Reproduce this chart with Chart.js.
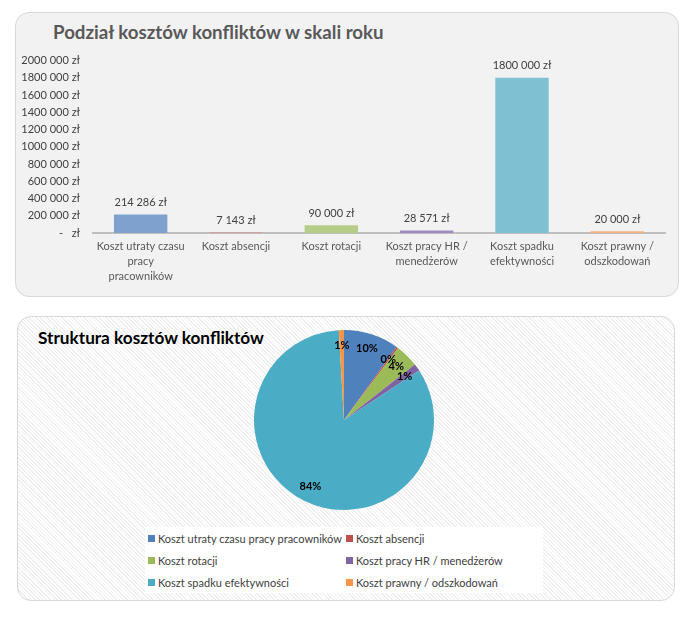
<!DOCTYPE html>
<html lang="pl">
<head>
<meta charset="utf-8">
<script src="https://cdn.jsdelivr.net/npm/chart.js@4"></script>
<style>
  body { margin: 0; width: 688px; height: 628px; background: #fff; font-family: Lato, sans-serif; position: relative; overflow: hidden; }
  .panel { position: absolute; border: 1px solid #d9d9d9; border-radius: 14px; box-sizing: border-box; }
  #top-panel { left: 15px; top: 12px; width: 664px; height: 285px; background: #f2f2f2; }
  #bottom-panel { left: 17px; top: 316px; width: 658px; height: 285px;
    background: repeating-linear-gradient(45deg, #ffffff 0px, #ffffff 1.5px, #efefef 1.5px, #efefef 2.6px); }
  .title { position: absolute; font-weight: bold; white-space: nowrap; }
  #bar-title { left: 53px; top: 21px; font-size: 18.7px; color: #595959; }
  #pie-title { left: 38px; top: 327px; font-size: 17.2px; color: #000; }
  #bar-box { position: absolute; left: 15px; top: 41px; width: 655px; height: 247px; }
  #pie-box { position: absolute; left: 244px; top: 320px; width: 200px; height: 200px; }
  #legend { position: absolute; left: 145px; top: 527px; width: 398px; height: 66px; background: #fff;
    display: grid; grid-template-columns: 198px 200px; grid-auto-rows: 22px; font-size: 11px; color: #404040; }
  #legend div { display: flex; align-items: center; white-space: nowrap; padding-left: 3px; }
  #legend span { display: inline-block; width: 7px; height: 7px; margin-right: 3px; }
</style>
</head>
<body>
<div class="panel" id="top-panel"></div>
<div class="panel" id="bottom-panel"></div>
<div class="title" id="bar-title">Podział kosztów konfliktów w skali roku</div>
<div class="title" id="pie-title">Struktura kosztów konfliktów</div>
<div id="bar-box"><canvas id="barChart"></canvas></div>
<div id="pie-box"><canvas id="pieChart"></canvas></div>
<div id="legend"></div>
<script>
// kategorie (linie etykiet osi X)
const categories = [
  ["Koszt utraty czasu", "pracy", "pracowników"],
  "Koszt absencji",
  "Koszt rotacji",
  ["Koszt pracy HR /", "menedżerów"],
  ["Koszt spadku", "efektywności"],
  ["Koszt prawny /", "odszkodowań"],
];
// koszty roczne w zł
const costs = [214286, 7143, 90000, 28571, 1800000, 20000];
// etykiety procentowe z wykresu kołowego
const pctLabels = ["10%", "0%", "4%", "1%", "84%", "1%"];
// oś Y
const yMax = 2000000;
const yStep = 200000;

const pieColors = ["#4f81bd", "#c0504d", "#9bbb59", "#8064a2", "#4bacc6", "#f79646"];
const barColors = ["#7ea2cd", "#d88a88", "#b6cc88", "#9e8bc0", "#7fc1d3", "#f9b07e"];

const FONT = "Lato, sans-serif";

function formatZl(v) {
  if (v === 0) return "-   zł";
  if (v < 1000) return v + " zł";
  const rest = String(v % 1000).padStart(3, "0");
  return Math.floor(v / 1000) + " " + rest + " zł";
}

// etykiety danych nad słupkami
const barLabels = {
  id: "barLabels",
  afterDatasetsDraw(chart) {
    const ctx = chart.ctx;
    const meta = chart.getDatasetMeta(0);
    ctx.save();
    ctx.font = "11px " + FONT;
    ctx.fillStyle = "#404040";
    ctx.textAlign = "center";
    ctx.textBaseline = "middle";
    meta.data.forEach((bar, i) => {
      ctx.fillText(formatZl(costs[i]), bar.x, bar.y - 12);
    });
    ctx.restore();
  },
};

new Chart(document.getElementById("barChart"), {
  type: "bar",
  data: {
    labels: categories,
    datasets: [{ data: costs, backgroundColor: barColors, categoryPercentage: 1, barPercentage: 0.56 }],
  },
  options: {
    responsive: true,
    maintainAspectRatio: false,
    animation: false,
    layout: { padding: { left: 5, right: 5, top: 5, bottom: 0 } },
    plugins: { legend: { display: false }, tooltip: { enabled: false } },
    scales: {
      y: {
        min: 0,
        max: yMax,
        afterFit: (s) => { s.width = 73; },
        grid: { display: false, drawTicks: false },
        border: { display: false },
        ticks: { stepSize: yStep, padding: 13, color: "#404040", font: { family: FONT, size: 11 }, callback: (v) => formatZl(v) },
      },
      x: {
        afterFit: (s) => { s.height = 55; },
        grid: { display: false, drawTicks: false },
        border: { color: "#bfbfbf", width: 2 },
        ticks: { padding: 6, color: "#595959", maxRotation: 0, autoSkip: false, font: { family: FONT, size: 11, lineHeight: 1.35 } },
      },
    },
  },
  plugins: [barLabels],
});

// etykiety procentowe na wycinkach
const pieLabels = {
  id: "pieLabels",
  afterDatasetsDraw(chart) {
    const ctx = chart.ctx;
    const meta = chart.getDatasetMeta(0);
    ctx.save();
    ctx.font = "bold 11px " + FONT;
    ctx.fillStyle = "#000";
    ctx.textAlign = "center";
    ctx.textBaseline = "middle";
    meta.data.forEach((arc, i) => {
      const a = (arc.startAngle + arc.endAngle) / 2;
      const r = arc.outerRadius * 0.83;
      ctx.fillText(pctLabels[i], arc.x + Math.cos(a) * r, arc.y + Math.sin(a) * r);
    });
    ctx.restore();
  },
};

new Chart(document.getElementById("pieChart"), {
  type: "pie",
  data: {
    labels: categories.map((c) => (Array.isArray(c) ? c.join(" ") : c)),
    datasets: [{ data: costs, backgroundColor: pieColors, borderWidth: 0 }],
  },
  options: {
    responsive: true,
    maintainAspectRatio: false,
    animation: false,
    layout: { padding: 10 },
    plugins: { legend: { display: false }, tooltip: { enabled: false } },
  },
  plugins: [pieLabels],
});

// legenda
const legend = document.getElementById("legend");
categories.forEach((c, i) => {
  const item = document.createElement("div");
  item.innerHTML = `<span style="background:${pieColors[i]}"></span>${Array.isArray(c) ? c.join(" ") : c}`;
  legend.appendChild(item);
});
</script>
</body>
</html>
